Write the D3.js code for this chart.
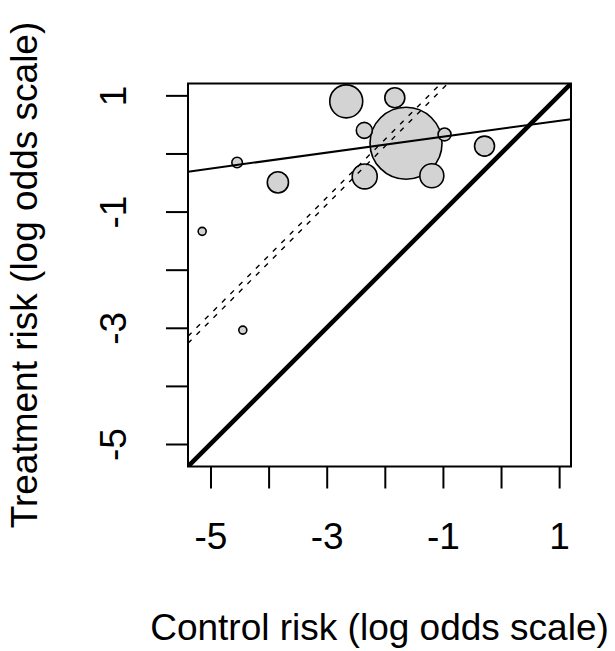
<!DOCTYPE html>
<html>
<head>
<meta charset="utf-8">
<script src="https://cdn.jsdelivr.net/npm/d3@7"></script>
<style>
  body { margin: 0; background: #fff; }
  text { font-family: "Liberation Sans", Arial, sans-serif; }
</style>
</head>
<body>
<div id="chart"></div>
<script>
// study values (log odds)
var controlRisk   = [-1.635, -2.664, -1.828, -2.353, -0.972, -0.284, -1.191, -2.346, -3.840, -4.542, -5.143, -4.444];
var treatmentRisk = [ 0.177,  0.897,  0.960,  0.397,  0.328,  0.127, -0.383, -0.395, -0.498, -0.155, -1.340, -3.040];
var studyWeight   = [ 1296,   272,    100,    64,     42,     100,    144,    156,    112,    28,     16,     16];

var xTicks = [-5, -4, -3, -2, -1, 0, 1];
var yTicks = [-5, -4, -3, -2, -1, 0, 1];
var tickLabels = [-5, -3, -1, 1];

// fitted lines: y = a + b*x
var regLine = {a: 0.425, b: 0.137};
var dashOffsets = [2.12, 2.24]; // y = x + c

var width = 615, height = 651;
var box = {left: 188, right: 571, top: 83.5, bottom: 466.5};

var all = controlRisk.concat(treatmentRisk);
var ext = d3.extent(all);
var pad = (ext[1] - ext[0]) * 0.04;
var lim = [ext[0] - pad, ext[1] + pad];

var xScale = d3.scaleLinear().domain(lim).range([box.left, box.right]);
var yScale = d3.scaleLinear().domain(lim).range([box.bottom, box.top]);
var rScale = d3.scaleSqrt().domain([0, 1296]).range([0, 36]);

var svg = d3.select("#chart").append("svg")
    .attr("width", width)
    .attr("height", height);

svg.append("clipPath").attr("id", "plotclip")
  .append("rect")
    .attr("x", box.left).attr("y", box.top)
    .attr("width", box.right - box.left).attr("height", box.bottom - box.top);

var plot = svg.append("g").attr("clip-path", "url(#plotclip)");

// bubbles, largest first so the small ones sit on top
var studies = controlRisk.map(function(x, i) {
  return {x: x, y: treatmentRisk[i], w: studyWeight[i]};
}).sort(function(a, b) { return b.w - a.w; });

plot.selectAll(".study")
    .data(studies)
  .enter().append("circle")
    .attr("class", "study")
    .attr("cx", function(d) { return xScale(d.x); })
    .attr("cy", function(d) { return yScale(d.y); })
    .attr("r", function(d) { return rScale(d.w); })
    .attr("fill", "#d3d3d3")
    .attr("stroke", "#000")
    .attr("stroke-width", 1.6);

// line of equality
plot.append("line")
    .attr("x1", xScale(lim[0])).attr("y1", yScale(lim[0]))
    .attr("x2", xScale(lim[1])).attr("y2", yScale(lim[1]))
    .attr("stroke", "#000")
    .attr("stroke-width", 4.5);

// regression line
plot.append("line")
    .attr("x1", xScale(lim[0])).attr("y1", yScale(regLine.a + regLine.b * lim[0]))
    .attr("x2", xScale(lim[1])).attr("y2", yScale(regLine.a + regLine.b * lim[1]))
    .attr("stroke", "#000")
    .attr("stroke-width", 2);

// dashed parallel lines
dashOffsets.forEach(function(c) {
  plot.append("line")
      .attr("x1", xScale(lim[0])).attr("y1", yScale(lim[0] + c))
      .attr("x2", xScale(lim[1])).attr("y2", yScale(lim[1] + c))
      .attr("stroke", "#000")
      .attr("stroke-width", 1.4)
      .attr("stroke-dasharray", "5,7");
});

// axes
var fmt = function(d) { return tickLabels.indexOf(d) >= 0 ? String(d) : ""; };

var xAxis = svg.append("g")
    .attr("transform", "translate(0," + box.bottom + ")")
    .call(d3.axisBottom(xScale).tickValues(xTicks).tickSize(22).tickFormat(fmt));
xAxis.select(".domain").remove();
xAxis.selectAll(".tick line").attr("stroke", "#000").attr("stroke-width", 2);
xAxis.selectAll(".tick text")
    .attr("y", 82).attr("dy", null)
    .attr("fill", "#000")
    .style("font-size", "37px");

var yAxis = svg.append("g")
    .attr("transform", "translate(" + box.left + ",0)")
    .call(d3.axisLeft(yScale).tickValues(yTicks).tickSize(22).tickFormat(fmt));
yAxis.select(".domain").remove();
yAxis.selectAll(".tick line").attr("stroke", "#000").attr("stroke-width", 2);
yAxis.selectAll(".tick text")
    .attr("x", null).attr("dy", null)
    .attr("transform", "translate(-62,0) rotate(-90)")
    .attr("text-anchor", "middle")
    .attr("fill", "#000")
    .style("font-size", "37px");

// frame
svg.append("rect")
    .attr("x", box.left).attr("y", box.top)
    .attr("width", box.right - box.left).attr("height", box.bottom - box.top)
    .attr("fill", "none")
    .attr("stroke", "#000")
    .attr("stroke-width", 2);

// axis titles
svg.append("text")
    .attr("x", (box.left + box.right) / 2)
    .attr("y", 640)
    .attr("text-anchor", "middle")
    .style("font-size", "37px")
    .text("Control risk (log odds scale)");

svg.append("text")
    .attr("transform", "translate(37," + (box.top + box.bottom) / 2 + ") rotate(-90)")
    .attr("text-anchor", "middle")
    .style("font-size", "37px")
    .text("Treatment risk (log odds scale)");
</script>
</body>
</html>
